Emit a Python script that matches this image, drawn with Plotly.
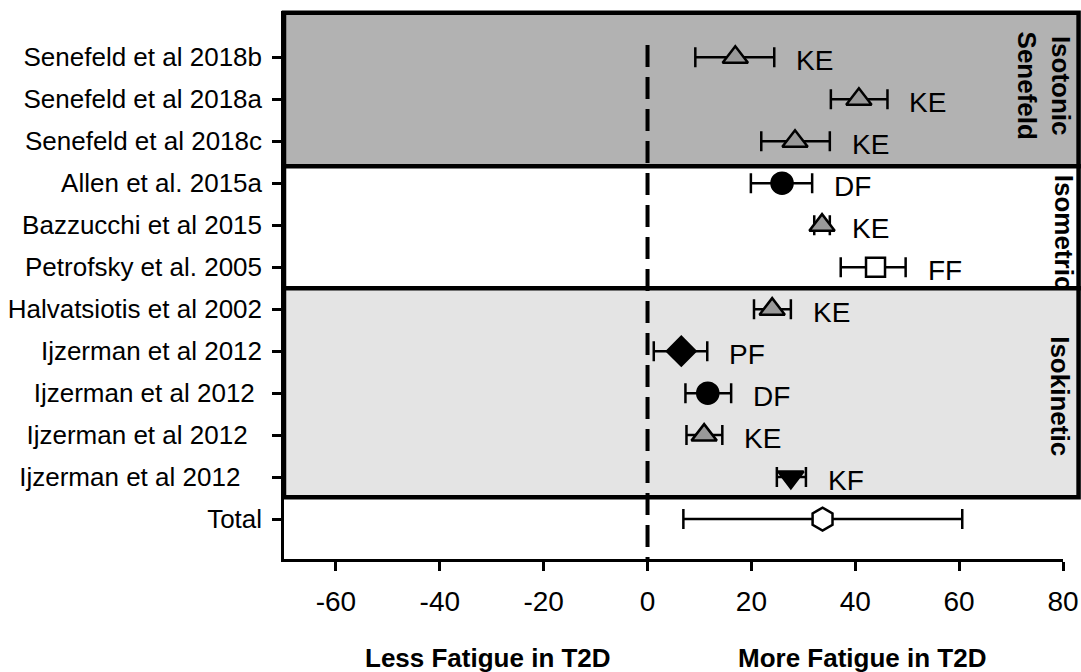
import plotly.graph_objects as go

# ---------------- data ----------------
studies = [
    "Senefeld et al 2018b",
    "Senefeld et al 2018a",
    "Senefeld et al 2018c",
    "Allen et al. 2015a",
    "Bazzucchi et al 2015",
    "Petrofsky et al. 2005",
    "Halvatsiotis et al 2002",
    "Ijzerman et al 2012",
    "Ijzerman et al 2012\u00a0",
    "Ijzerman et al 2012\u00a0\u00a0",
    "Ijzerman et al 2012\u00a0\u00a0\u00a0",
    "Total",
]
effect = [16.9, 40.7, 28.4, 25.9, 33.6, 43.9, 24.0, 6.5, 11.6, 10.9, 27.6, 33.7]
ci_low = [9.2, 35.3, 21.9, 19.9, 32.1, 37.2, 20.5, 1.2, 7.3, 7.5, 24.9, 6.9]
ci_high = [24.4, 46.2, 35.1, 31.7, 35.1, 49.7, 27.6, 11.5, 16.1, 14.4, 30.5, 60.6]
muscle = ["KE", "KE", "KE", "DF", "KE", "FF", "KE", "PF", "DF", "KE", "KF", ""]
marker_kind = ["tri", "tri", "tri", "circle", "tri", "square", "tri",
               "diamond", "circle", "tri", "tridown", "total"]
group_names = ["<b>Isotonic<br>Senefeld</b>", "<b>Isometric</b>", "<b>Isokinetic</b>"]
x_ticks = [-60, -40, -20, 0, 20, 40, 60, 80]

# ---------------- styles / layout constants ----------------
FONT = "Liberation Sans, Arial, sans-serif"
STYLE = {
    "tri": dict(symbol="triangle-up", size=22, color="#999999"),
    "circle": dict(symbol="circle", size=21, color="black"),
    "square": dict(symbol="square", size=19, color="white"),
    "diamond": dict(symbol="diamond", size=22, color="black"),
    "tridown": dict(symbol="triangle-down", size=22, color="black"),
    "total": dict(symbol="hexagon", size=23, color="white"),
}
Y_BOTTOM, Y_TOP = 11.95, -1.1
X_MIN, X_MAX = -70, 80
BAND_EDGES = [-1.06, 2.6, 5.5, 10.48]
BAND_FILL = ["#b2b2b2", "white", "#e4e4e4"]
BAND_RIGHT = 83


def ydom(r):
    return (Y_BOTTOM - r) / (Y_BOTTOM - Y_TOP)


def xdom(v):
    return (v - X_MIN) / (X_MAX - X_MIN)


rows = list(range(len(studies)))

fig = go.Figure()
fig.add_trace(go.Scatter(
    x=effect,
    y=rows,
    mode="markers",
    marker=dict(
        symbol=[STYLE[k]["symbol"] for k in marker_kind],
        size=[STYLE[k]["size"] for k in marker_kind],
        color=[STYLE[k]["color"] for k in marker_kind],
        line=dict(color="black", width=2.5),
        opacity=1,
    ),
    error_x=dict(
        type="data",
        symmetric=False,
        array=[h - e for h, e in zip(ci_high, effect)],
        arrayminus=[e - l for e, l in zip(effect, ci_low)],
        color="black",
        thickness=2.5,
        width=10,
    ),
    showlegend=False,
    hoverinfo="skip",
))

shapes = []
for i in range(3):
    shapes.append(dict(
        type="rect", xref="x domain", yref="y domain",
        x0=0, x1=xdom(BAND_RIGHT),
        y0=ydom(BAND_EDGES[i + 1]), y1=ydom(BAND_EDGES[i]),
        fillcolor=BAND_FILL[i], line=dict(color="black", width=4.5),
        layer="below",
    ))
shapes.append(dict(
    type="line", xref="x", yref="y", x0=0, x1=0, y0=-0.29, y1=Y_BOTTOM,
    line=dict(color="black", width=4, dash="22px,10px"), layer="below",
))

annotations = []
for i, m in enumerate(muscle):
    if m:
        annotations.append(dict(
            x=ci_high[i], y=i, xref="x", yref="y", text=m, showarrow=False,
            xanchor="left", yanchor="middle", xshift=20, yshift=-3,
            font=dict(family=FONT, size=28, color="black"),
        ))

group_pos = [(76.3, 0.67), (80.1, 4.17), (79.4, 8.07)]
for name, (gx, gy) in zip(group_names, group_pos):
    annotations.append(dict(
        x=xdom(gx), y=ydom(gy), xref="paper", yref="paper", text=name,
        showarrow=False, textangle=90, xanchor="center", yanchor="middle",
        font=dict(family=FONT, size=26, color="black"),
    ))

annotations.append(dict(
    x=-30.8, y=-0.18, xref="x", yref="paper", text="<b>Less Fatigue in T2D</b>",
    showarrow=False, xanchor="center", yanchor="middle",
    font=dict(family=FONT, size=26, color="black"),
))
annotations.append(dict(
    x=41.2, y=-0.18, xref="x", yref="paper", text="<b>More Fatigue in T2D</b>",
    showarrow=False, xanchor="center", yanchor="middle",
    font=dict(family=FONT, size=26, color="black"),
))

fig.update_layout(
    width=1081, height=672,
    margin=dict(l=284, r=18, t=11, b=113, pad=0, autoexpand=False),
    paper_bgcolor="white", plot_bgcolor="white",
    shapes=shapes, annotations=annotations,
    font=dict(family=FONT, color="black"),
    xaxis=dict(
        range=[X_MIN, X_MAX], tickvals=x_ticks, ticktext=[str(t) for t in x_ticks],
        ticks="outside", ticklen=9, tickwidth=2.5, tickcolor="black",
        showline=True, linewidth=2.5, linecolor="black",
        showgrid=False, zeroline=False, automargin=False,
        tickfont=dict(family=FONT, size=28, color="black"),
        ticklabelstandoff=7,
    ),
    yaxis=dict(
        range=[Y_BOTTOM, Y_TOP], tickvals=rows, ticktext=studies,
        ticks="outside", ticklen=9, tickwidth=2.5, tickcolor="black",
        showline=True, linewidth=2.5, linecolor="black",
        showgrid=False, zeroline=False, automargin=False,
        tickfont=dict(family=FONT, size=26, color="black"),
        ticklabelstandoff=5,
    ),
)

fig.write_html("out.html")
